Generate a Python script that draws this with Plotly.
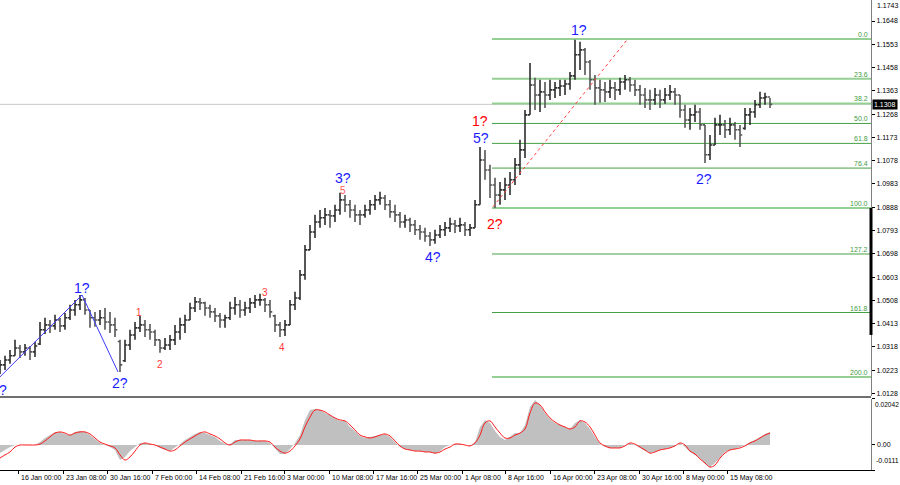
import plotly.graph_objects as go

# ---------------- price data (one bar per step) ----------------
opens = [1.0230,1.0245,1.0265,1.0282,1.0314,1.0298,1.0314,1.0298,1.0330,1.0388,
         1.0408,1.0404,1.0428,1.0404,1.0437,1.0469,1.0490,1.0510,1.0469,1.0437,
         1.0428,1.0437,1.0420,1.0408,1.0340,1.0262,1.0326,1.0367,1.0396,1.0408,
         1.0388,1.0379,1.0347,1.0314,1.0326,1.0347,1.0379,1.0408,1.0428,1.0477,
         1.0502,1.0498,1.0477,1.0461,1.0445,1.0428,1.0437,1.0477,1.0490,1.0469,
         1.0477,1.0498,1.0510,1.0510,1.0490,1.0445,1.0408,1.0388,1.0408,1.0490,
         1.0518,1.0612,1.0714,1.0787,1.0828,1.0845,1.0857,1.0853,1.0877,1.0918,
         1.0898,1.0877,1.0857,1.0857,1.0877,1.0898,1.0918,1.0926,1.0898,1.0869,
         1.0857,1.0828,1.0836,1.0816,1.0796,1.0787,1.0771,1.0755,1.0775,1.0796,
         1.0804,1.0820,1.0812,1.0816,1.0796,1.0804,1.0898,1.1081,1.1040,1.0979,
         1.0938,1.0959,1.0979,1.1000,1.1061,1.1122,1.1265,1.1387,1.1346,1.1359,
         1.1346,1.1367,1.1375,1.1383,1.1391,1.1424,1.1510,1.1530,1.1481,1.1408,
         1.1375,1.1367,1.1359,1.1375,1.1367,1.1399,1.1408,1.1387,1.1367,1.1346,
         1.1326,1.1326,1.1346,1.1326,1.1346,1.1359,1.1346,1.1285,1.1244,1.1265,
         1.1277,1.1224,1.1102,1.1142,1.1224,1.1224,1.1204,1.1224,1.1204,1.1210,
         1.1265,1.1277,1.1306,1.1334,1.1338]
highs = [1.0265,1.0282,1.0306,1.0347,1.0326,1.0330,1.0322,1.0339,1.0420,1.0437,
         1.0428,1.0449,1.0437,1.0457,1.0490,1.0510,1.0530,1.0518,1.0469,1.0461,
         1.0469,1.0477,1.0461,1.0437,1.0347,1.0347,1.0388,1.0420,1.0445,1.0428,
         1.0412,1.0388,1.0347,1.0355,1.0367,1.0408,1.0437,1.0449,1.0498,1.0522,
         1.0518,1.0502,1.0490,1.0477,1.0457,1.0449,1.0502,1.0522,1.0510,1.0502,
         1.0518,1.0530,1.0535,1.0518,1.0510,1.0449,1.0420,1.0428,1.0510,1.0543,
         1.0632,1.0734,1.0816,1.0857,1.0877,1.0885,1.0877,1.0898,1.0947,1.0938,
         1.0918,1.0898,1.0877,1.0898,1.0918,1.0938,1.0951,1.0938,1.0918,1.0898,
         1.0869,1.0857,1.0845,1.0836,1.0816,1.0804,1.0787,1.0796,1.0816,1.0828,
         1.0845,1.0836,1.0845,1.0828,1.0820,1.0918,1.1134,1.1122,1.1061,1.1008,
         1.0991,1.1008,1.1032,1.1089,1.1163,1.1285,1.1477,1.1416,1.1408,1.1399,
         1.1408,1.1399,1.1408,1.1408,1.1440,1.1571,1.1563,1.1538,1.1489,1.1428,
         1.1408,1.1399,1.1408,1.1399,1.1416,1.1428,1.1420,1.1408,1.1387,1.1375,
         1.1367,1.1375,1.1367,1.1375,1.1387,1.1375,1.1346,1.1306,1.1293,1.1306,
         1.1293,1.1224,1.1183,1.1253,1.1265,1.1244,1.1253,1.1236,1.1224,1.1293,
         1.1293,1.1326,1.1359,1.1355,1.1334]
lows = [1.0208,1.0224,1.0249,1.0282,1.0273,1.0282,1.0265,1.0277,1.0326,1.0371,
        1.0375,1.0388,1.0379,1.0388,1.0428,1.0445,1.0469,1.0449,1.0396,1.0400,
        1.0408,1.0388,1.0375,1.0359,1.0216,1.0257,1.0306,1.0347,1.0379,1.0359,
        1.0347,1.0322,1.0294,1.0306,1.0306,1.0326,1.0347,1.0375,1.0428,1.0461,
        1.0469,1.0445,1.0437,1.0420,1.0396,1.0396,1.0428,1.0449,1.0437,1.0445,
        1.0457,1.0477,1.0486,1.0461,1.0437,1.0379,1.0359,1.0363,1.0408,1.0469,
        1.0510,1.0592,1.0714,1.0763,1.0804,1.0816,1.0804,1.0828,1.0857,1.0869,
        1.0845,1.0828,1.0816,1.0845,1.0857,1.0877,1.0898,1.0877,1.0845,1.0828,
        1.0804,1.0804,1.0787,1.0775,1.0755,1.0747,1.0730,1.0739,1.0763,1.0771,
        1.0787,1.0783,1.0787,1.0771,1.0771,1.0804,1.0898,1.1000,1.0926,1.0885,
        1.0898,1.0918,1.0938,1.0979,1.1020,1.1089,1.1265,1.1285,1.1277,1.1293,
        1.1326,1.1334,1.1342,1.1346,1.1367,1.1408,1.1448,1.1428,1.1367,1.1306,
        1.1314,1.1318,1.1334,1.1326,1.1346,1.1367,1.1359,1.1342,1.1306,1.1293,
        1.1285,1.1306,1.1293,1.1310,1.1326,1.1306,1.1253,1.1212,1.1204,1.1236,
        1.1204,1.1069,1.1081,1.1142,1.1183,1.1171,1.1183,1.1163,1.1134,1.1204,
        1.1224,1.1253,1.1293,1.1306,1.1293]
closes = [1.0245,1.0265,1.0282,1.0314,1.0298,1.0314,1.0298,1.0322,1.0388,1.0408,
          1.0404,1.0428,1.0404,1.0437,1.0469,1.0490,1.0510,1.0469,1.0437,1.0428,
          1.0437,1.0420,1.0408,1.0388,1.0245,1.0326,1.0367,1.0396,1.0408,1.0388,
          1.0379,1.0347,1.0314,1.0326,1.0347,1.0379,1.0408,1.0428,1.0477,1.0502,
          1.0498,1.0477,1.0461,1.0445,1.0428,1.0437,1.0477,1.0490,1.0469,1.0477,
          1.0498,1.0510,1.0510,1.0490,1.0461,1.0408,1.0388,1.0408,1.0490,1.0518,
          1.0612,1.0714,1.0787,1.0828,1.0845,1.0857,1.0853,1.0877,1.0918,1.0898,
          1.0877,1.0857,1.0857,1.0877,1.0898,1.0918,1.0926,1.0898,1.0869,1.0857,
          1.0828,1.0836,1.0816,1.0796,1.0787,1.0771,1.0755,1.0775,1.0796,1.0804,
          1.0820,1.0812,1.0816,1.0796,1.0804,1.0898,1.1081,1.1040,1.0979,1.0938,
          1.0959,1.0979,1.1000,1.1061,1.1122,1.1265,1.1387,1.1346,1.1359,1.1346,
          1.1367,1.1375,1.1383,1.1391,1.1424,1.1510,1.1530,1.1481,1.1408,1.1375,
          1.1367,1.1359,1.1375,1.1367,1.1399,1.1408,1.1387,1.1367,1.1346,1.1326,
          1.1326,1.1346,1.1326,1.1346,1.1359,1.1346,1.1285,1.1244,1.1265,1.1277,
          1.1224,1.1102,1.1142,1.1224,1.1224,1.1204,1.1224,1.1204,1.1183,1.1265,
          1.1277,1.1306,1.1334,1.1338,1.1308]

# ---------------- oscillator (lower pane) ----------------
osma = [-0.0036,-0.0022,-0.0009,0.0,0.0,0.0,0.0,0.0,0.0013,0.0031,
        0.0044,0.0058,0.0058,0.0049,0.0044,0.0058,0.0062,0.0058,0.0044,0.0027,
        0.0009,0.0,-0.0009,-0.0022,-0.0067,-0.0053,-0.0027,-0.0009,0.0009,0.0009,
        0.0004,0.0,-0.0013,-0.0022,-0.0027,-0.0013,0.0004,0.0022,0.0036,0.0049,
        0.0058,0.0053,0.0044,0.0036,0.0018,0.0004,0.0004,0.0022,0.0022,0.0022,
        0.0022,0.0018,0.0018,0.0018,0.0009,-0.0018,-0.0040,-0.0040,-0.0018,0.0009,
        0.0044,0.0111,0.0155,0.0160,0.0155,0.0142,0.0133,0.0120,0.0107,0.0107,
        0.0080,0.0062,0.0040,0.0031,0.0036,0.0040,0.0044,0.0049,0.0036,0.0013,
        -0.0009,-0.0018,-0.0022,-0.0027,-0.0027,-0.0031,-0.0031,-0.0040,-0.0027,-0.0009,
        0.0,0.0004,0.0004,0.0,-0.0004,0.0013,0.0080,0.0111,0.0098,0.0062,
        0.0036,0.0022,0.0036,0.0053,0.0053,0.0089,0.0169,0.0200,0.0178,0.0142,
        0.0115,0.0098,0.0089,0.0080,0.0071,0.0098,0.0111,0.0098,0.0071,0.0036,
        0.0004,-0.0009,-0.0013,-0.0013,-0.0013,0.0,0.0009,0.0,-0.0013,-0.0027,
        -0.0036,-0.0031,-0.0022,-0.0018,-0.0013,-0.0004,0.0009,-0.0009,-0.0031,-0.0044,
        -0.0058,-0.0084,-0.0098,-0.0080,-0.0053,-0.0031,-0.0022,-0.0018,-0.0009,0.0,
        0.0013,0.0022,0.0036,0.0049,0.0058]
signal = [-0.0058,-0.0044,-0.0031,-0.0009,0.0,0.0,0.0,0.0,0.0004,0.0018,
          0.0036,0.0053,0.0058,0.0053,0.0044,0.0053,0.0058,0.0058,0.0049,0.0031,
          0.0013,0.0004,-0.0004,-0.0013,-0.0044,-0.0067,-0.0053,-0.0027,0.0,0.0009,
          0.0004,0.0,-0.0009,-0.0018,-0.0027,-0.0022,-0.0004,0.0013,0.0027,0.0040,
          0.0053,0.0058,0.0049,0.0040,0.0027,0.0009,0.0,0.0013,0.0022,0.0022,
          0.0022,0.0018,0.0018,0.0018,0.0013,-0.0009,-0.0027,-0.0036,-0.0027,-0.0004,
          0.0027,0.0080,0.0124,0.0155,0.0155,0.0147,0.0133,0.0120,0.0111,0.0107,
          0.0089,0.0067,0.0044,0.0036,0.0031,0.0036,0.0044,0.0049,0.0040,0.0018,
          -0.0004,-0.0018,-0.0022,-0.0027,-0.0027,-0.0031,-0.0031,-0.0036,-0.0031,-0.0018,
          -0.0009,0.0004,0.0004,0.0,-0.0004,0.0009,0.0044,0.0098,0.0107,0.0080,
          0.0053,0.0031,0.0031,0.0044,0.0053,0.0071,0.0142,0.0186,0.0178,0.0147,
          0.0120,0.0102,0.0089,0.0080,0.0071,0.0080,0.0107,0.0102,0.0080,0.0044,
          0.0009,-0.0004,-0.0013,-0.0013,-0.0013,-0.0004,0.0009,0.0004,-0.0009,-0.0022,
          -0.0036,-0.0031,-0.0022,-0.0018,-0.0013,-0.0004,0.0009,0.0,-0.0027,-0.0040,
          -0.0062,-0.0080,-0.0098,-0.0089,-0.0058,-0.0036,-0.0022,-0.0018,-0.0013,-0.0004,
          0.0009,0.0018,0.0031,0.0044,0.0053]

bars = list(range(len(closes)))

# ---------------- axes labels ----------------
price_ticks = [1.0128,1.0223,1.0318,1.0413,1.0508,1.0603,1.0698,1.0793,1.0888,
               1.0983,1.1078,1.1173,1.1268,1.1363,1.1458,1.1553,1.1648]
price_top_label = 1.1743
time_labels = ["8 Jan 16:00","16 Jan 00:00","23 Jan 08:00","30 Jan 16:00","7 Feb 00:00",
               "14 Feb 08:00","21 Feb 16:00","3 Mar 00:00","10 Mar 08:00","17 Mar 16:00",
               "25 Mar 00:00","1 Apr 08:00","8 Apr 16:00","16 Apr 00:00","23 Apr 08:00",
               "30 Apr 16:00","8 May 00:00","15 May 08:00"]
time_pos = [-5.2,3.6,12.6,21.4,30.4,39.2,48.2,56.8,65.8,74.6,83.4,92.4,101.0,110.0,
            118.8,127.8,136.6,145.4]
current_price = 1.1308
osc_max, osc_min = 0.02042, -0.0111

# ---------------- fibonacci ----------------
fib_high, fib_low = 1.1575, 1.0885
fib_start = 98.4
fib_ratios = [0.0, 23.6, 38.2, 50.0, 61.8, 76.4, 100.0, 127.2, 161.8, 200.0]
fib_light = [0.0, 23.6, 38.2, 100.0, 200.0]

# ---------------- drawings / wave marks ----------------
trend_x, trend_y = [98.6, 125.4], [1.0890, 1.1571]
wave_x, wave_y = [0, 16.4, 23.6], [1.0196, 1.0530, 1.0216]
labels = [  # text, bar, price, color, size
    ("1?", 115.8, 1.1612, "#1a1aff", 14),
    ("2?", 140.8, 1.1004, "#1a1aff", 14),
    ("1?", 96.0, 1.1240, "#ff0000", 14),
    ("5?", 96.2, 1.1171, "#1a1aff", 14),
    ("2?", 99.0, 1.0820, "#ff0000", 14),
    ("3?", 68.6, 1.1006, "#1a1aff", 14),
    ("5", 68.6, 1.0958, "#ff5a5a", 10),
    ("4?", 86.6, 1.0685, "#1a1aff", 14),
    ("1?", 16.4, 1.0559, "#1a1aff", 14),
    ("2?", 24.0, 1.0171, "#1a1aff", 14),
    ("?", 0.6, 1.0143, "#1a1aff", 14),
    ("1", 27.8, 1.0457, "#ff3a3a", 10),
    ("2", 32.0, 1.0245, "#ff3a3a", 10),
    ("3", 53.0, 1.0539, "#ff3a3a", 10),
    ("4", 56.4, 1.0314, "#ff3a3a", 10),
]

FONT = "Liberation Sans, Arial, sans-serif"
X_END = 174.2
MAIN_LO, MAIN_HI = 1.01178, 1.17337

fig = go.Figure()

fig.add_trace(go.Ohlc(
    x=bars, open=opens, high=highs, low=lows, close=closes,
    increasing=dict(line=dict(color="#2e2e2e", width=1.6)),
    decreasing=dict(line=dict(color="#555555", width=1.6)),
    tickwidth=0.45, xaxis="x", yaxis="y", hoverinfo="skip", showlegend=False))

fig.add_trace(go.Scatter(x=wave_x, y=wave_y, mode="lines",
                         line=dict(color="#3b3bff", width=1), xaxis="x", yaxis="y",
                         showlegend=False, hoverinfo="skip"))
fig.add_trace(go.Scatter(x=trend_x, y=trend_y, mode="lines",
                         line=dict(color="#ff4040", width=1, dash="dot"), xaxis="x", yaxis="y",
                         showlegend=False, hoverinfo="skip"))

fig.add_trace(go.Scatter(x=bars, y=osma, mode="lines", fill="tozeroy",
                         fillcolor="#c0c0c0", line=dict(width=0, color="#c0c0c0"),
                         xaxis="x", yaxis="y2", showlegend=False, hoverinfo="skip"))
fig.add_trace(go.Scatter(x=bars, y=signal, mode="lines",
                         line=dict(color="#ff1a1a", width=1, shape="spline"),
                         xaxis="x", yaxis="y2", showlegend=False, hoverinfo="skip"))

shapes = []
annotations = []

# current price line
shapes.append(dict(type="line", xref="paper", yref="y", x0=0, x1=1,
                   y0=current_price, y1=current_price,
                   line=dict(color="#c8c8c8", width=1), layer="below"))

# fib levels
for r in fib_ratios:
    lvl = fib_high - r / 100.0 * (fib_high - fib_low)
    light = r in fib_light
    shapes.append(dict(type="line", xref="x", yref="y", x0=fib_start, x1=X_END,
                       y0=lvl, y1=lvl,
                       line=dict(color="#94cf94" if light else "#46a046",
                                 width=2 if light else 1), layer="below"))
    annotations.append(dict(xref="paper", yref="y", x=1, y=lvl, xanchor="right",
                            yanchor="bottom", xshift=-1, yshift=-1, showarrow=False,
                            text=f"{r:.1f}",
                            font=dict(family=FONT, size=7, color="#3f9a3f")))

# pane separator
shapes.append(dict(type="line", xref="paper", yref="paper", x0=0, x1=1,
                   y0=0.1553, y1=0.1553, line=dict(color="#707070", width=2)))
# dark segment on price scale
shapes.append(dict(type="line", xref="paper", yref="y", x0=1, x1=1,
                   y0=fib_low, y1=1.0367, line=dict(color="#000000", width=3)))

# wave labels
for t, bx, py, col, sz in labels:
    annotations.append(dict(xref="x", yref="y", x=bx, y=py, text=t, showarrow=False,
                            font=dict(family=FONT, size=sz, color=col)))

# time labels
for t, p in zip(time_labels, time_pos):
    annotations.append(dict(xref="x", yref="paper", x=p, y=0, xanchor="left",
                            yanchor="top", yshift=-2, xshift=1, text=t, showarrow=False,
                            font=dict(family=FONT, size=7, color="#000000")))

# top price label
annotations.append(dict(xref="paper", yref="paper", x=1, y=1, xanchor="left",
                        yanchor="top", yshift=0, xshift=4,
                        text=f"{price_top_label:.4f}", showarrow=False,
                        font=dict(family=FONT, size=7, color="#000000")))
# current price box
annotations.append(dict(xref="paper", yref="y", x=1, y=current_price, xanchor="left",
                        xshift=1, text=f"{current_price:.4f}", showarrow=False,
                        bgcolor="#000000", borderpad=1,
                        font=dict(family=FONT, size=7, color="#ffffff")))
# oscillator labels
annotations.append(dict(xref="paper", yref="y2", x=1, y=osc_max, xanchor="left",
                        yanchor="top", xshift=2, text=f"{osc_max:.5f}", showarrow=False,
                        font=dict(family=FONT, size=6.6, color="#000000")))
annotations.append(dict(xref="paper", yref="y2", x=1, y=0, xanchor="left",
                        xshift=4, text="0.00", showarrow=False,
                        font=dict(family=FONT, size=7, color="#000000")))
annotations.append(dict(xref="paper", yref="y2", x=1, y=osc_min, xanchor="left",
                        yanchor="bottom", xshift=3, yshift=4, text=f"{osc_min:.4f}",
                        showarrow=False,
                        font=dict(family=FONT, size=7, color="#000000")))

fig.update_layout(
    width=900, height=485,
    margin=dict(l=0, r=29, t=0, b=15),
    paper_bgcolor="#ffffff", plot_bgcolor="#ffffff",
    showlegend=False,
    xaxis=dict(domain=[0, 1], range=[0, X_END], anchor="y2", showgrid=False,
               zeroline=False, showline=True, linecolor="#000000", linewidth=1,
               tickvals=time_pos, ticks="outside", ticklen=3, tickcolor="#000000",
               showticklabels=False, rangeslider=dict(visible=False), fixedrange=True),
    yaxis=dict(domain=[0.1574, 1], range=[MAIN_LO, MAIN_HI], side="right", anchor="x",
               tickvals=price_ticks, ticktext=[f"{v:.4f}" for v in price_ticks],
               ticks="outside", ticklen=3, tickcolor="#000000",
               tickfont=dict(family=FONT, size=7, color="#000000"),
               showline=True, linecolor="#808080", linewidth=1,
               showgrid=False, zeroline=False),
    yaxis2=dict(domain=[0, 0.1511], range=[osc_min, osc_max], side="right", anchor="x",
                tickvals=[osc_max, 0, osc_min], ticks="outside", ticklen=3,
                tickcolor="#000000", showticklabels=False,
                showline=True, linecolor="#808080", linewidth=1,
                showgrid=False, zeroline=False),
    shapes=shapes, annotations=annotations,
)

fig.write_html("out.html", config={"displayModeBar": False},
               post_script="document.body.style.margin='0px';document.body.style.padding='0px';")
